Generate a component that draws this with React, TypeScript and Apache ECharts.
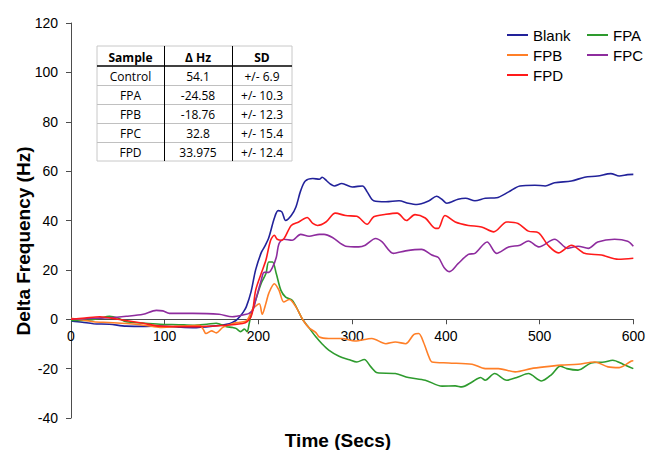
import React, { useEffect, useRef } from "react";
import * as echarts from "echarts";

const seriesNames = ["Blank", "FPA", "FPB", "FPC", "FPD"];
const seriesColors = ["#22229A", "#2E9B2E", "#FF7F27", "#8E2C9E", "#FF1A1A"];

const blankData = [
  [0, -0.7], [12, -1.2], [24, -1.8], [41, -2], [59, -2.8], [80, -2.9], [95, -2.8], [115, -3.2],
  [130, -3.4], [151, -2.8], [169, -1.8], [176, -0.5], [180, 1], [184, 3], [187, 5], [192, 11],
  [197, 20], [203, 27], [206, 29], [211, 33], [217, 41], [221, 44], [225, 43.5], [229, 40],
  [235, 42], [240, 45.5], [245, 52], [250, 56], [258, 57], [265, 56.7], [268, 57.5], [273, 56],
  [277, 54.7], [281, 54], [289, 55], [300, 53.6], [311, 54], [316, 51.6], [323, 48], [336, 47.6],
  [350, 48], [360, 47], [369, 46.5], [382, 48], [390, 49.8], [396, 48.5], [401, 47], [413, 48.6],
  [421, 49], [431, 48], [442, 49], [454, 49.2], [467, 51.6], [479, 54], [495, 54.3], [506, 54],
  [516, 55.3], [534, 56], [548, 57.5], [562, 58], [576, 59], [585, 58], [594, 58.6], [600, 58.7],
];

const fpaData = [
  [0, -0.5], [15, -0.5], [30, 0.3], [41, 1.2], [50, 0.5], [59, -1], [75, -1.5], [95, -2],
  [115, -2.2], [130, -2.4], [145, -2], [155, -1.6], [166, -3], [172, -3.3], [176, -3.7],
  [181, -5], [185, -4], [188, -5], [190, -2], [192, 1.6], [197, 7.7], [203, 14.6], [208, 18.5],
  [211, 23.2], [215, 23.2], [219, 18.5], [224, 11.7], [229, 9], [236, 7.7], [243, 3], [247, 0],
  [254, -3.5], [261, -7], [268, -10], [275, -12.5], [286, -15], [297, -16.4], [305, -17.3],
  [313, -16.3], [320, -19.3], [327, -21.7], [346, -22], [360, -23.6], [378, -24.7], [396, -27.1],
  [410, -27], [417, -27.4], [428, -25.4], [437, -23.6], [442, -24.7], [452, -22], [465, -24.7],
  [477, -23.4], [488, -22], [502, -25], [513, -22.3], [522, -19], [529, -20], [541, -20.6],
  [555, -17.7], [569, -17.3], [578, -16.6], [589, -18.2], [600, -20],
];

const fpbData = [
  [0, 0.4], [12, -0.3], [24, -1], [40, -1.3], [59, -1.7], [80, -2.5], [95, -3.3], [110, -3],
  [119, -2.8], [137, -2.4], [141, -4], [144, -5.8], [150, -4.7], [155, -5.5], [162, -3.3],
  [172, -1.8], [180, -1.2], [187, -0.7], [190, 1], [193, 3.6], [196, 5], [201, 6.3], [204, 2],
  [208, 6.5], [211, 10.5], [217, 14.4], [222, 11.7], [227, 7], [233, 8], [240, 5], [247, 0],
  [254, -3.5], [261, -5.3], [265, -7.2], [275, -7.8], [289, -7.8], [303, -8.8], [321, -7.8],
  [336, -9.9], [346, -9.2], [357, -9.9], [366, -6.1], [371, -5.8], [376, -9.2], [382, -15.3],
  [385, -17.3], [403, -17.7], [428, -18.2], [442, -20], [456, -20], [474, -21.3], [491, -20],
  [505, -19.3], [523, -18.6], [541, -18.2], [559, -17.3], [573, -19.3], [585, -19.6],
  [598, -16.9], [600, -16.8],
];

const fpcData = [
  [0, 0], [24, 0.4], [40, 0.6], [59, 1.2], [77, 2], [91, 3.6], [98, 3.4], [105, 2.4], [130, 2.4],
  [158, 2], [172, 1], [187, 2], [190, 2.4], [194, 3.6], [197, 7.7], [203, 15.8], [206, 19],
  [211, 19], [215, 21], [219, 25], [222, 30.7], [227, 32.4], [236, 32], [245, 34.4], [254, 33.6],
  [265, 34.4], [270, 34.4], [279, 33.1], [293, 29.6], [307, 29.3], [314, 30], [325, 32.7],
  [332, 31.3], [344, 26.7], [357, 27.7], [374, 28.3], [385, 26], [392, 25], [398, 21],
  [404, 19.3], [413, 22.5], [424, 26.3], [431, 26.7], [444, 31.3], [454, 26.7], [467, 29.3],
  [479, 30], [488, 31.7], [499, 29.3], [516, 32.4], [530, 28.7], [541, 29.6], [552, 28.7],
  [562, 31.3], [580, 32.4], [594, 31.6], [600, 29.6],
];

const fpdData = [
  [0, 0], [15, 0.5], [31, 1], [50, 0], [77, -1.6], [95, -2.8], [130, -3], [166, -2.4],
  [183, -1.7], [188, -1], [192, 1], [194, 3.6], [197, 11.7], [203, 18.6], [208, 24], [213, 32],
  [217, 34], [220, 32.4], [225, 32], [235, 38], [243, 39.4], [252, 41.2], [258, 38.8], [263, 38],
  [272, 39.4], [282, 43], [293, 42], [305, 41.7], [316, 38.5], [323, 41.5], [336, 42.5],
  [348, 43], [358, 40], [367, 42.4], [378, 41], [389, 36.8], [392, 36.8], [399, 42], [410, 39.4],
  [424, 38], [438, 37.4], [451, 35.4], [465, 39.4], [477, 38.8], [488, 35.7], [499, 35],
  [509, 30], [520, 26.9], [534, 30], [548, 26.7], [566, 26], [584, 24.3], [600, 24.7],
];

const allData = [blankData, fpaData, fpbData, fpcData, fpdData];

const tableHeader = ["Sample", "\u0394 Hz", "SD"];
const tableSamples = ["Control", "FPA", "FPB", "FPC", "FPD"];
const tableDeltaHz = ["54.1", "-24.58", "-18.76", "32.8", "33.975"];
const tableSD = ["+/- 6.9", "+/- 10.3", "+/- 12.3", "+/- 15.4", "+/- 12.4"];

const Y_MIN = -40;
const Y_MAX = 120;
const GRID_TOP = 23;
const GRID_BOTTOM = 32;
const CHART_H = 450;

const AXIS_COLOR = "#4d4d4d";
const FONT = "'Liberation Sans', Arial, sans-serif";
const TFONT = "'Open Sans', 'Noto Sans', sans-serif";

function buildTable() {
  const left = 97, right = 292, top = 46, headBottom = 66, rowH = 19;
  const cols = [97, 164, 232, 292];
  const bottom = headBottom + rowH * tableSamples.length;
  const children: any[] = [];
  children.push({
    type: "rect",
    shape: { x: left, y: top, width: right - left, height: bottom - top },
    style: { fill: "#ffffff", stroke: "#c8c8c8", lineWidth: 1 },
  });
  for (let i = 1; i < tableSamples.length; i++) {
    const y = headBottom + rowH * i + 0.5;
    children.push({
      type: "line",
      shape: { x1: left, y1: y, x2: right, y2: y },
      style: { stroke: "#c0c0c0", lineWidth: 1 },
    });
  }
  children.push({
    type: "line",
    shape: { x1: left, y1: headBottom, x2: right, y2: headBottom },
    style: { stroke: "#000000", lineWidth: 1.5 },
  });
  [cols[1], cols[2]].forEach((x) => {
    children.push({
      type: "line",
      shape: { x1: x + 0.5, y1: top, x2: x + 0.5, y2: bottom },
      style: { stroke: "#000000", lineWidth: 1 },
    });
  });
  const centers = [(cols[0] + cols[1]) / 2, (cols[1] + cols[2]) / 2, (cols[2] + cols[3]) / 2];
  tableHeader.forEach((h, i) => {
    children.push({
      type: "text",
      x: centers[i],
      y: (top + headBottom) / 2 + 1,
      style: {
        text: h, fill: "#000", font: `bold 12px ${TFONT}`,
        textAlign: "center", textVerticalAlign: "middle",
      },
    });
  });
  tableSamples.forEach((s, r) => {
    const cy = headBottom + rowH * r + rowH / 2 + 0.5;
    [s, tableDeltaHz[r], tableSD[r]].forEach((t, c) => {
      children.push({
        type: "text",
        x: centers[c],
        y: cy,
        style: {
          text: t, fill: "#000", font: `12px ${TFONT}`,
          textAlign: "center", textVerticalAlign: "middle",
        },
      });
    });
  });
  return { type: "group", children };
}

export default function App() {
  const ref = useRef<HTMLDivElement>(null);
  useEffect(() => {
    if (!ref.current) return;
    const chart = echarts.init(ref.current, undefined, { renderer: "svg" });
    const plotH = CHART_H - GRID_TOP - GRID_BOTTOM;
    // move the x axis up from the grid bottom to the y = 0 line
    const zeroOffset = -(plotH * (0 - Y_MIN)) / (Y_MAX - Y_MIN);
    const legendCommon = {
      orient: "vertical",
      top: 20,
      icon: "rect",
      itemWidth: 21,
      itemHeight: 2,
      itemGap: 0,
      selectedMode: false,
      textStyle: { fontSize: 15, fontFamily: FONT, color: "#000", lineHeight: 20 },
    };
    chart.setOption({
      animation: false,
      backgroundColor: "#ffffff",
      grid: { left: 71, right: 12, top: GRID_TOP, bottom: GRID_BOTTOM, containLabel: false },
      legend: [
        { ...legendCommon, left: 502, data: ["Blank", "FPB", "FPD"] },
        { ...legendCommon, left: 582, data: ["FPA", "FPC"] },
      ],
      xAxis: {
        type: "value",
        position: "bottom",
        offset: zeroOffset,
        min: 0,
        max: 600,
        interval: 100,
        axisLine: { show: true, onZero: false, lineStyle: { color: AXIS_COLOR, width: 1 } },
        axisTick: { show: true, length: 5, lineStyle: { color: AXIS_COLOR } },
        axisLabel: { color: "#000", fontSize: 14, fontFamily: FONT, margin: 10 },
        splitLine: { show: false },
      },
      yAxis: {
        type: "value",
        min: Y_MIN,
        max: Y_MAX,
        interval: 20,
        axisLine: { show: true, onZero: false, lineStyle: { color: AXIS_COLOR, width: 1 } },
        axisTick: { show: true, length: 5, lineStyle: { color: AXIS_COLOR } },
        axisLabel: { color: "#000", fontSize: 14, fontFamily: FONT, margin: 13 },
        splitLine: { show: false },
      },
      series: seriesNames.map((name, i) => ({
        name,
        type: "line",
        data: allData[i],
        color: seriesColors[i],
        showSymbol: false,
        symbol: "none",
        smooth: 0.3,
        lineStyle: { color: seriesColors[i], width: 1.6 },
        z: 2 + i,
      })),
      graphic: [
        buildTable(),
        {
          type: "text",
          x: 23,
          y: 241,
          rotation: Math.PI / 2,
          style: {
            text: "Delta Frequency (Hz)", fill: "#000", font: `bold 19px ${FONT}`,
            textAlign: "center", textVerticalAlign: "middle",
          },
        },
        {
          type: "text",
          x: 338,
          y: 440,
          style: {
            text: "Time (Secs)", fill: "#000", font: `bold 19px ${FONT}`,
            textAlign: "center", textVerticalAlign: "middle",
          },
        },
      ],
    });
    return () => chart.dispose();
  }, []);
  return (
    <div
      ref={ref}
      style={{ position: "fixed", left: 0, top: 0, width: 648, height: 450, background: "#fff" }}
    />
  );
}
